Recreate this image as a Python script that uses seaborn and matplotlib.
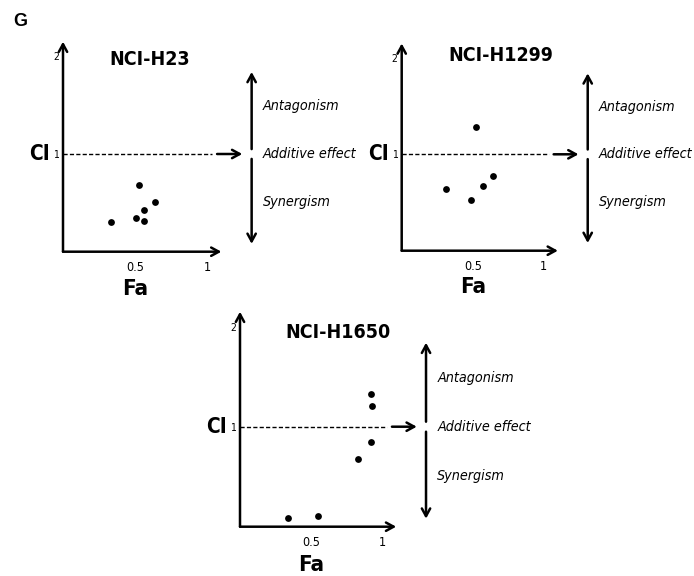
import numpy as np
import pandas as pd
import seaborn as sns
import matplotlib.pyplot as plt

sns.set_style("white")
plt.rcParams['font.family'] = ['DejaVu Sans']
plt.rcParams['font.stretch'] = 'condensed'
plt.rcParams['text.color'] = 'black'
plt.rcParams['xtick.color'] = 'black'
plt.rcParams['ytick.color'] = 'black'

# cell lines and the combination index (CI) vs fraction affected (Fa) points
cell_lines = ["NCI-H23", "NCI-H1299", "NCI-H1650"]
h23_fa = [0.33, 0.53, 0.64, 0.56, 0.51, 0.56]
h23_ci = [0.30, 0.68, 0.51, 0.43, 0.35, 0.31]
h1299_fa = [0.52, 0.31, 0.49, 0.57, 0.64]
h1299_ci = [1.28, 0.64, 0.53, 0.67, 0.78]
h1650_fa = [0.34, 0.55, 0.83, 0.92, 0.93, 0.92]
h1650_ci = [0.09, 0.11, 0.68, 0.85, 1.21, 1.33]
x_ticks = [0.5, 1]
x_tick_labels = ["0.5", "1"]
y_ticks = [1, 2]
y_tick_labels = ["1", "2"]
effect_labels = ["Antagonism", "Additive effect", "Synergism"]

df = pd.concat([
    pd.DataFrame({"Fa": h23_fa, "CI": h23_ci, "line": cell_lines[0]}),
    pd.DataFrame({"Fa": h1299_fa, "CI": h1299_ci, "line": cell_lines[1]}),
    pd.DataFrame({"Fa": h1650_fa, "CI": h1650_ci, "line": cell_lines[2]}),
], ignore_index=True)

W, H = 694, 576
fig = plt.figure(figsize=(W / 100, H / 100), dpi=100)

# origin pixel (x, y), pixels per unit x, pixels per unit y, title position
layout = {
    "NCI-H23":   dict(ox=63, oy=251.7, sx=144, sy=97.7, tx=0.60, ty=1.97),
    "NCI-H1299": dict(ox=401.7, oy=250.7, sx=142, sy=96.4, tx=0.70, ty=2.03),
    "NCI-H1650": dict(ox=240, oy=526.7, sx=142, sy=100, tx=0.69, ty=1.94),
}

x0, x1, y0, y1 = 0, 1.12, 0, 2.2
arrow_kw = dict(arrowstyle='->, head_length=0.55, head_width=0.3', lw=1.8,
                color='black', shrinkA=0, shrinkB=0)

for line in cell_lines:
    p = layout[line]
    left = p["ox"] + x0 * p["sx"]
    bottom = p["oy"] - y0 * p["sy"]
    ax = fig.add_axes([left / W, 1 - bottom / H,
                       (x1 - x0) * p["sx"] / W, (y1 - y0) * p["sy"] / H])
    ax.patch.set_alpha(0)
    sub = df[df["line"] == line]
    sns.scatterplot(x="Fa", y="CI", data=sub, ax=ax, color='black',
                    s=24, linewidth=0, legend=False, clip_on=False)
    ax.set_xlim(x0, x1)
    ax.set_ylim(y0, y1)
    for s in ax.spines.values():
        s.set_visible(False)

    ax.set_xticks(x_ticks)
    ax.set_xticklabels(x_tick_labels, fontsize=9)
    ax.set_yticks(y_ticks)
    ax.set_yticklabels(y_tick_labels, fontsize=7.5)
    ax.tick_params(axis='x', direction='in', length=5, width=1.2, pad=7)
    ax.tick_params(axis='y', direction='in', length=5, width=1.2, pad=3)
    ax.set_xlabel("")
    ax.set_ylabel("")

    # axes with arrowheads
    ax.annotate('', xy=(1.10, 0), xytext=(0, 0), arrowprops=arrow_kw,
                annotation_clip=False)
    ax.annotate('', xy=(0, 2.15), xytext=(0, 0), arrowprops=arrow_kw,
                annotation_clip=False)

    # CI = 1 reference
    ax.plot([0, 1.035], [1, 1], color='black', lw=1, dashes=(3, 1.6),
            clip_on=False)
    ax.annotate('', xy=(1.245, 1), xytext=(1.07, 1), arrowprops=arrow_kw,
                annotation_clip=False)
    ax.annotate('', xy=(1.31, 1.84), xytext=(1.31, 1.05), arrowprops=arrow_kw,
                annotation_clip=False)
    ax.annotate('', xy=(1.31, 0.08), xytext=(1.31, 0.95), arrowprops=arrow_kw,
                annotation_clip=False)
    for lab, yy in zip(effect_labels, [1.49, 1.0, 0.51]):
        ax.text(1.39, yy, lab, fontsize=10.3, style='italic', ha='left',
                va='center', clip_on=False)

    ax.text(p["tx"], p["ty"], line, fontsize=14, fontweight='bold',
            ha='center', va='center')
    ax.text(-0.165, 1.0, "CI", fontsize=15, fontweight='bold', ha='center',
            va='center')
    ax.text(0.5, -0.38, "Fa", fontsize=16, fontweight='bold', ha='center',
            va='center')

fig.text(20 / W, 1 - 22 / H, "G", fontsize=13, fontweight='bold',
         family=['Liberation Sans', 'DejaVu Sans'], stretch='normal',
         ha='center', va='center')

fig.savefig("out.png", dpi=100)
